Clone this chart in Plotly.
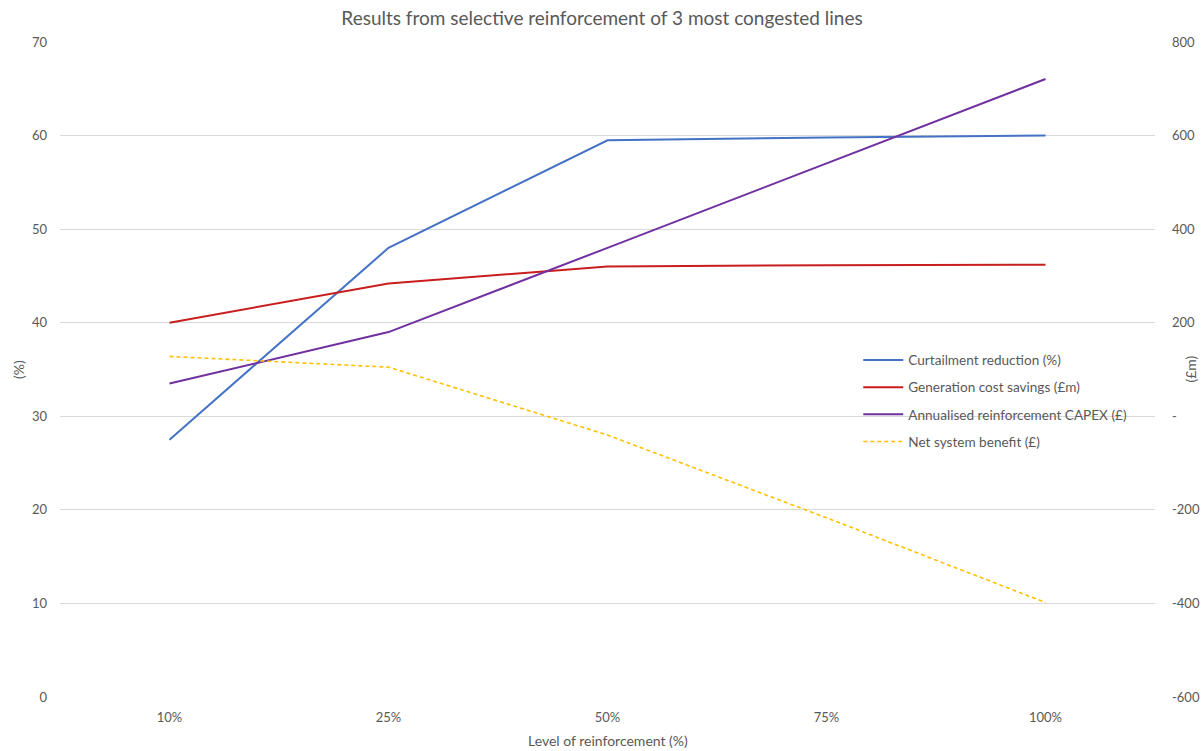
import plotly.graph_objects as go

# Reinforcement levels (category axis)
levels = ["10%", "25%", "50%", "75%", "100%"]

# Left axis (%)
curtailment_reduction = [27.5, 48.0, 59.5, 59.8, 60.0]

# Right axis (£m)
generation_cost_savings = [200, 284, 320, 323, 324]
annualised_capex = [70, 180, 360, 540, 721]
net_system_benefit = [128, 105, -40, -217, -398]

# Right axis ticks
right_tickvals = [-600, -400, -200, 0, 200, 400, 600, 800]
right_ticktext = ["-600", "-400", "-200", "-", "200", "400", "600", "800"]

FONT = "Lato, Open Sans, sans-serif"
GREY = "#595959"

fig = go.Figure()

fig.add_trace(go.Scatter(
    x=levels, y=curtailment_reduction, name="Curtailment reduction (%)",
    mode="lines", line=dict(color="#4472C4", width=2), yaxis="y",
    legendgroup="a"))
fig.add_trace(go.Scatter(
    x=levels, y=generation_cost_savings, name="Generation cost savings (£m)",
    mode="lines", line=dict(color="#C91E1E", width=2), yaxis="y2",
    legendgroup="b"))
fig.add_trace(go.Scatter(
    x=levels, y=annualised_capex, name="Annualised reinforcement CAPEX (£)",
    mode="lines", line=dict(color="#7030A0", width=2), yaxis="y2",
    legendgroup="c"))
fig.add_trace(go.Scatter(
    x=levels, y=net_system_benefit, name="Net system benefit (£)",
    mode="lines", line=dict(color="#FFC000", width=1.6, dash="4px,3px"),
    yaxis="y2", legendgroup="d"))

fig.update_layout(
    width=1204, height=751,
    margin=dict(l=60, r=49, t=42, b=54, autoexpand=False),
    paper_bgcolor="white", plot_bgcolor="white",
    font=dict(family=FONT, size=13, color=GREY),
    title=dict(text="Results from selective reinforcement of 3 most congested lines",
               x=0.5, xanchor="center", y=0.976, yanchor="middle",
               font=dict(size=19, color=GREY, family=FONT)),
    xaxis=dict(type="category", range=[-0.5, 4.5], showgrid=False,
               showline=False, zeroline=False, ticks="", automargin=False,
               tickfont=dict(size=13, color=GREY), ticklabelstandoff=11),
    yaxis=dict(range=[0, 70], dtick=10, showgrid=True, gridcolor="#D9D9D9",
               gridwidth=1, zeroline=False, showline=False, ticks="",
               automargin=False,
               tickfont=dict(size=13, color=GREY), ticklabelstandoff=12),
    yaxis2=dict(range=[-600, 800], overlaying="y", side="right",
                tickvals=right_tickvals, ticktext=right_ticktext,
                showgrid=False, zeroline=False, showline=False, ticks="",
                automargin=False,
                tickfont=dict(size=13, color=GREY), ticklabelstandoff=16),
    legend=dict(x=0.729, y=0.538, xanchor="left", yanchor="top",
                bgcolor="rgba(0,0,0,0)", font=dict(size=13.6, color=GREY),
                traceorder="grouped", tracegroupgap=6.5, itemwidth=40),
    showlegend=True,
    annotations=[
        dict(text="Level of reinforcement (%)", xref="paper", yref="paper",
             x=0.5, y=-0.066, xanchor="center", yanchor="middle", showarrow=False,
             font=dict(size=14, color=GREY)),
        dict(text="(%)", xref="paper", yref="paper", x=-0.038, y=0.5,
             xanchor="center", yanchor="middle", textangle=-90, showarrow=False,
             font=dict(size=14, color=GREY)),
        dict(text="(£m)", xref="paper", yref="paper", x=1.032, y=0.5,
             xanchor="center", yanchor="middle", textangle=-90, showarrow=False,
             font=dict(size=14, color=GREY)),
    ],
)

fig.write_html("out.html")
